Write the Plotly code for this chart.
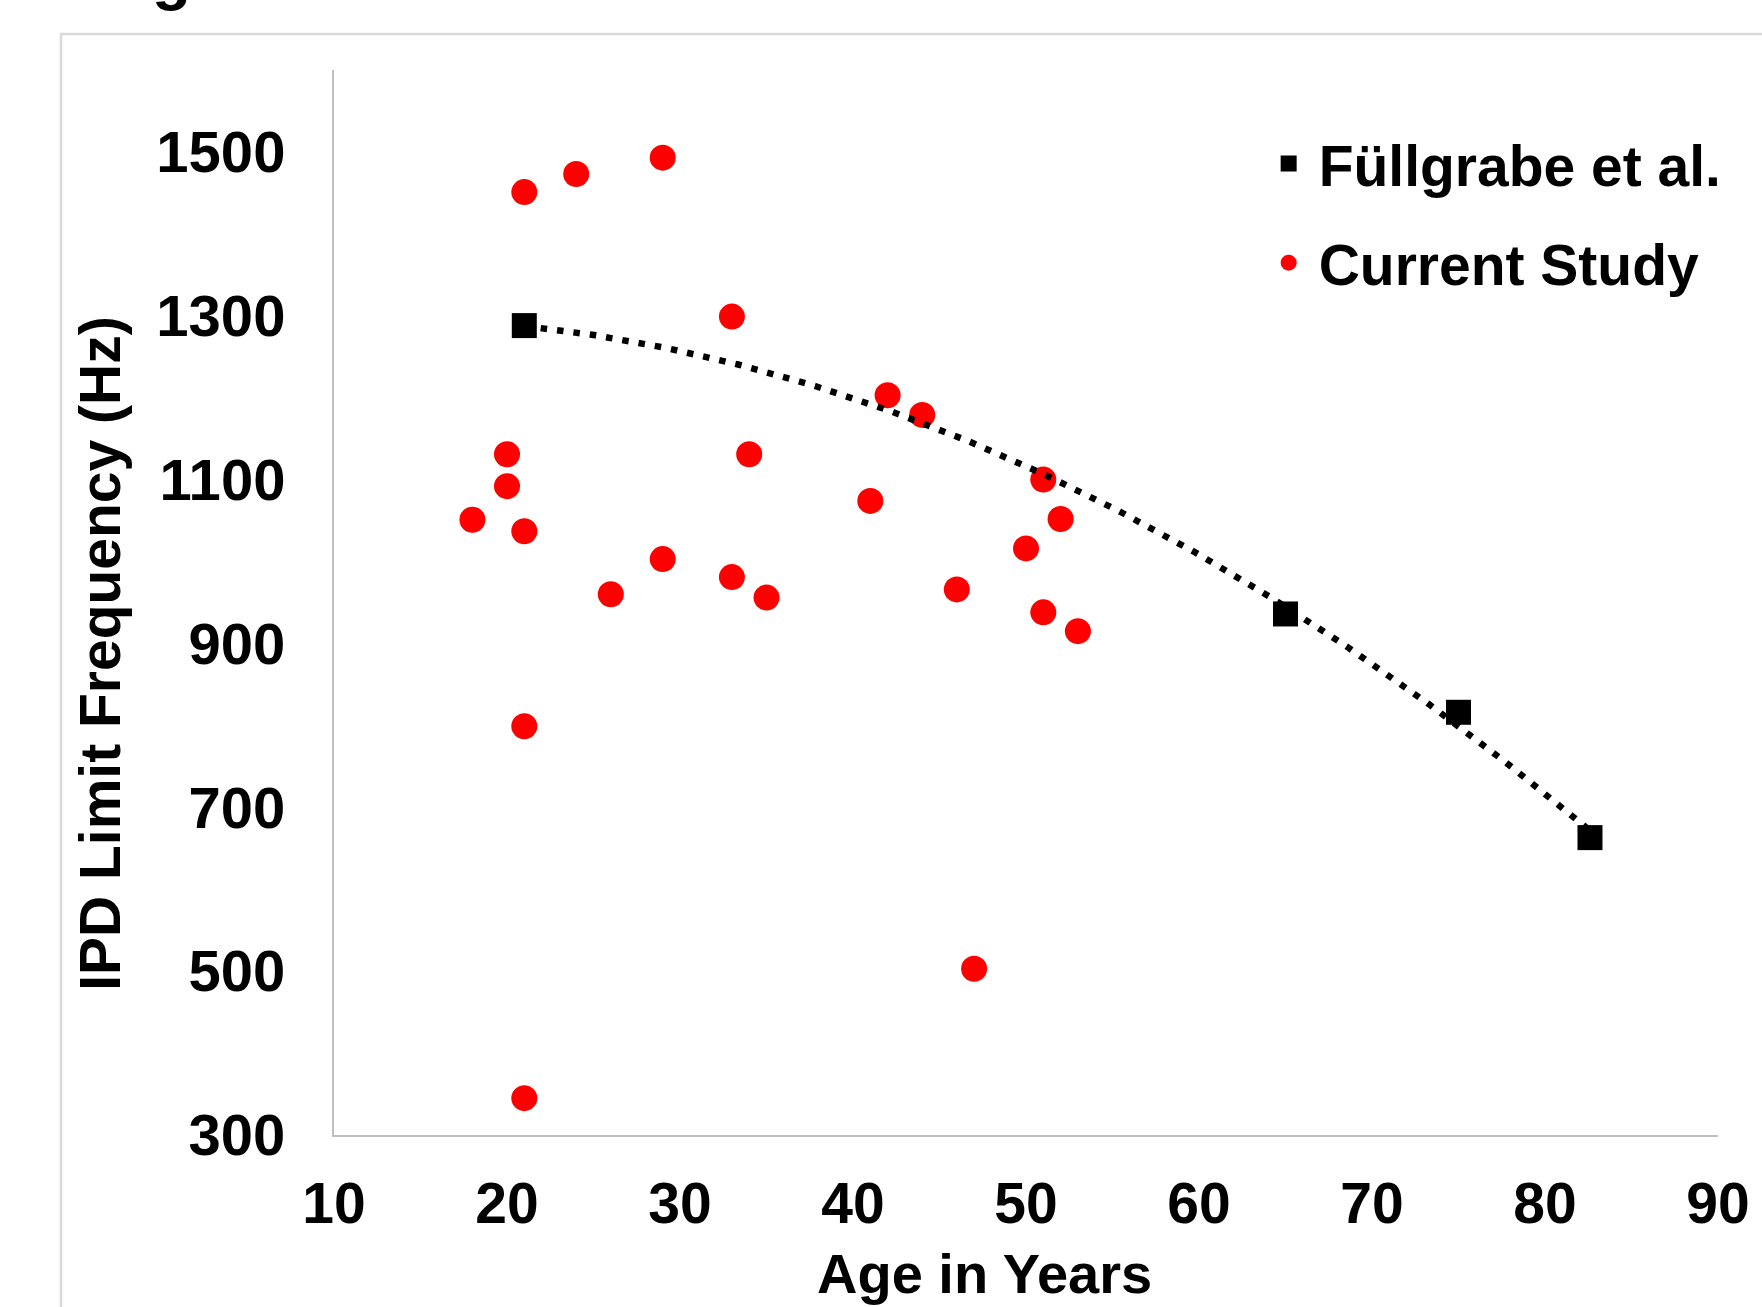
import numpy as np
import plotly.graph_objects as go

# Data
fuell_age = [21, 65, 75, 82.6]
fuell_freq = [1288, 936, 816, 663]

study_age = [21, 24, 29, 33, 42, 44, 20, 34, 20, 51, 41, 18, 21, 52, 50,
             29, 33, 26, 35, 46, 51, 53, 21, 47, 21]
study_freq = [1451, 1473, 1493, 1299, 1203, 1179, 1131, 1131, 1092, 1100, 1074,
              1051, 1037, 1052, 1016, 1003, 981, 960, 956, 966, 938, 915, 799, 503, 345]

x_ticks = [10, 20, 30, 40, 50, 60, 70, 80, 90]
y_ticks = [300, 500, 700, 900, 1100, 1300, 1500]

FONT = "Liberation Sans, Arial, sans-serif"

# Excel-style polynomial (order 2) trendline through the Füllgrabe et al. points
coef = np.polyfit(fuell_age, fuell_freq, 2)
trend_x = np.linspace(min(fuell_age), max(fuell_age), 300)
trend_y = np.polyval(coef, trend_x)

fig = go.Figure()

fig.add_trace(go.Scatter(
    x=study_age, y=study_freq, mode="markers", name="Current Study",
    marker=dict(symbol="circle", size=26, color="#ff0000"),
    cliponaxis=False, legendrank=2, legendgroup="b",
))
fig.add_trace(go.Scatter(
    x=trend_x, y=trend_y, mode="lines", showlegend=False,
    line=dict(color="black", width=6.5, dash="6.5px,10px"),
    hoverinfo="skip",
))
fig.add_trace(go.Scatter(
    x=fuell_age, y=fuell_freq, mode="markers", name="Füllgrabe et al.",
    marker=dict(symbol="square", size=25, color="black"),
    cliponaxis=False, legendrank=1, legendgroup="a",
))

W, H = 1762, 1307
L, R, T, B = 334, 39, 70, 172
pw, ph = W - L - R, H - T - B


def px_x(p):
    return (p - L) / pw


def px_y(p):
    return (H - B - p) / ph


fig.update_layout(
    width=W, height=H,
    margin=dict(l=L, r=R, t=T, b=B, pad=0),
    paper_bgcolor="white", plot_bgcolor="white",
    font=dict(family=FONT, color="black"),
    xaxis=dict(
        range=[10, 90], tickvals=x_ticks, ticktext=[str(v) for v in x_ticks],
        showgrid=False, zeroline=False, showline=True,
        linecolor="#bfbfbf", linewidth=2, ticks="",
        tickfont=dict(family=FONT, size=57, color="black", weight="bold"),
        ticklabelstandoff=18,
    ),
    yaxis=dict(
        range=[300, 1600], tickvals=y_ticks, ticktext=[str(v) for v in y_ticks],
        showgrid=False, zeroline=False, showline=True,
        linecolor="#bfbfbf", linewidth=2, ticks="",
        tickfont=dict(family=FONT, size=58, color="black", weight="bold"),
        ticklabelstandoff=35,
    ),
    showlegend=True,
    legend=dict(
        x=px_x(1262), y=px_y(120), xanchor="left", yanchor="top",
        bgcolor="rgba(0,0,0,0)", borderwidth=0,
        font=dict(family=FONT, size=57, color="black", weight="bold"),
        traceorder="grouped", tracegroupgap=22, itemsizing="trace",
        itemwidth=50,
    ),
    annotations=[
        dict(text="Age in Years", x=px_x(987), y=px_y(1273), xref="paper", yref="paper",
             xanchor="center", yanchor="middle", showarrow=False,
             font=dict(family=FONT, size=56, color="black", weight="bold")),
        dict(text="IPD Limit Frequency (Hz)", x=px_x(99), y=px_y(653),
             xref="paper", yref="paper", textangle=-90,
             xanchor="center", yanchor="middle", showarrow=False,
             font=dict(family=FONT, size=57, color="black", weight="bold")),
        dict(text="g", x=px_x(171), y=px_y(14), xref="paper", yref="paper",
             xanchor="center", yanchor="bottom", showarrow=False,
             font=dict(family=FONT, size=64, color="black", weight="bold")),
    ],
    shapes=[
        dict(type="rect", xref="paper", yref="paper",
             x0=px_x(60), x1=px_x(W + 40), y0=px_y(H + 40), y1=px_y(34),
             line=dict(color="#d9d9d9", width=2.5), fillcolor="rgba(0,0,0,0)",
             layer="below"),
    ],
)

fig.write_html("out.html")
